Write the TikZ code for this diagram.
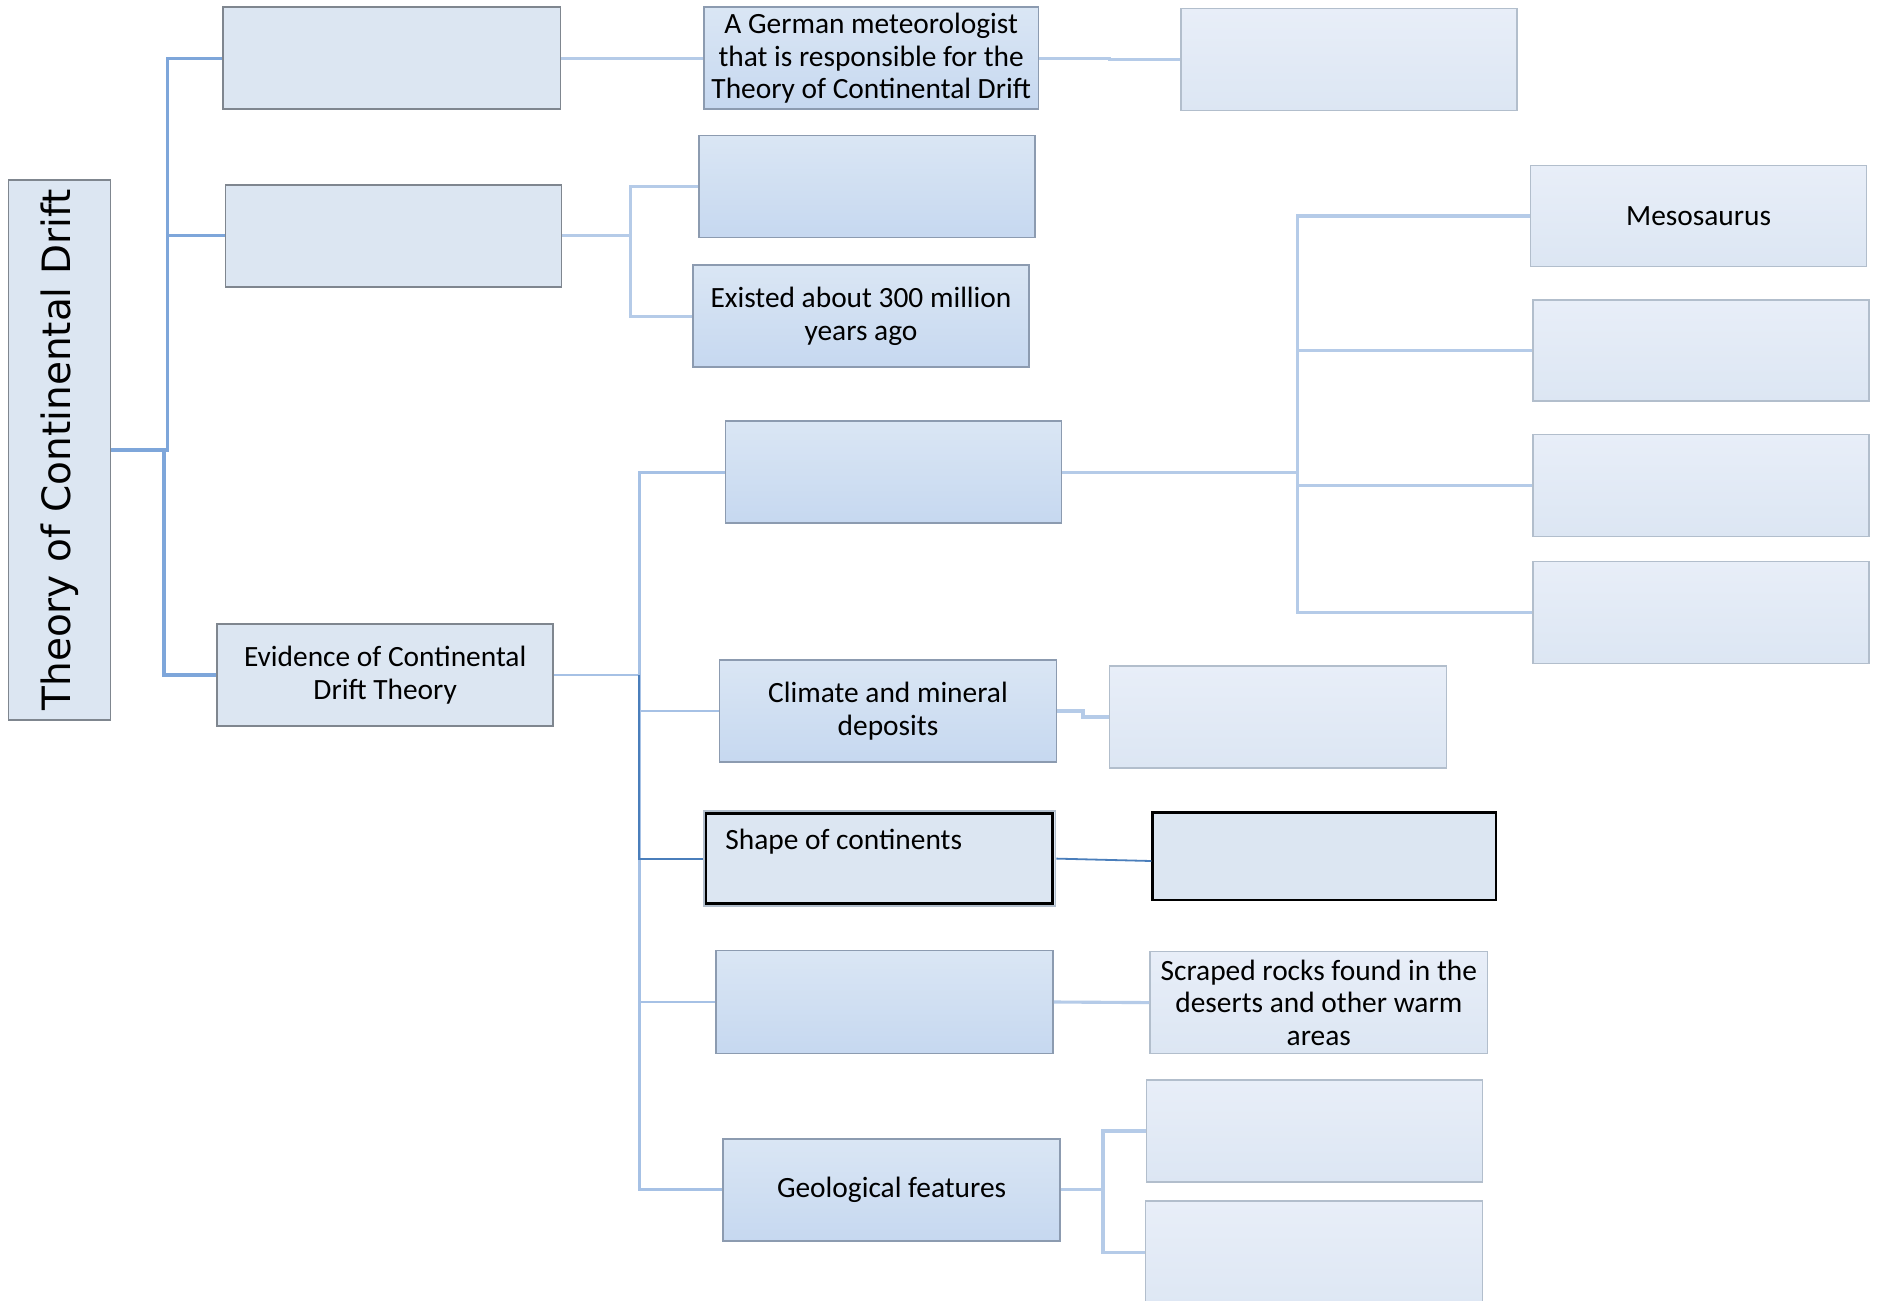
\documentclass[tikz,border=0pt]{standalone}
\usepackage{fontspec}
\setmainfont{Carlito}
\newfontfamily\titlefont{DejaVu Sans}
\usetikzlibrary{calc}
\definecolor{fillA}{HTML}{DCE6F2}
\definecolor{gradTop}{HTML}{DAE6F4}
\definecolor{gradBot}{HTML}{C6D8F0}
\definecolor{liteTop}{HTML}{E8EEF8}
\definecolor{liteBot}{HTML}{DCE6F3}
\definecolor{borderA}{HTML}{7F868F}
\definecolor{borderB}{HTML}{8C9BB0}
\definecolor{borderC}{HTML}{B2BECC}
\definecolor{lineA}{HTML}{7EA6DA}
\definecolor{lineB}{HTML}{B5CBE8}
\definecolor{lineC}{HTML}{A6C1E5}
\definecolor{lineD}{HTML}{4A7EBB}
\tikzset{
  every node/.style={font=\fontsize{24.5}{27}\selectfont, text=black, inner sep=0pt, align=center},
  plainbox/.style={fill=fillA, draw=borderA, line width=1.3pt},
  gradbox/.style={top color=gradTop, bottom color=gradBot, draw=borderB, line width=1.3pt},
  litebox/.style={top color=liteTop, bottom color=liteBot, draw=borderC, line width=1.3pt},
  blackbox/.style={fill=fillA, draw=black, line width=2.2pt},
  connA/.style={draw=lineA, line width=2.6pt},
  connB/.style={draw=lineB, line width=2.6pt},
  connC/.style={draw=lineC, line width=2.4pt},
  connD/.style={draw=lineD, line width=1.5pt},
}
\begin{document}
\begin{tikzpicture}[x=1pt,y=-1pt]
\useasboundingbox (0,0) rectangle (1565,1084);
\fill[white] (0,0) rectangle (1565,1084);

\node[plainbox, minimum width=85, minimum height=450] (title) at (49.5,375) {\rotatebox{90}{\titlefont\fontsize{32.5}{36}\selectfont Theory of Continental Drift}};
\node[plainbox, minimum width=281, minimum height=85] (b1) at (326.5,48.5) {};
\node[plainbox, minimum width=280, minimum height=85] (b2) at (328,196.5) {};
\node[plainbox, minimum width=280, minimum height=85] (ev) at (321,562.5) {Evidence of Continental\\Drift Theory};

\node[gradbox, minimum width=279, minimum height=85] (ger) at (726,48.5) {A German meteorologist\\that is responsible for the\\Theory of Continental Drift};
\node[litebox, minimum width=280, minimum height=85] (tr) at (1124,49.5) {};
\node[gradbox, minimum width=280, minimum height=85] (c1) at (722.5,155.5) {};
\node[gradbox, minimum width=280, minimum height=85] (ex) at (717.5,263.5) {Existed about 300 million\\years ago};
\node[gradbox, minimum width=280, minimum height=85] (fos) at (744.5,393.5) {};

\node[litebox, minimum width=280, minimum height=84] (meso) at (1415.5,180) {Mesosaurus};
\node[litebox, minimum width=280, minimum height=84] (r2) at (1417.5,292) {};
\node[litebox, minimum width=280, minimum height=85] (r3) at (1417.5,404.5) {};
\node[litebox, minimum width=280, minimum height=85] (r4) at (1417.5,510.5) {};

\node[gradbox, minimum width=281, minimum height=85] (cli) at (740,592.5) {Climate and mineral\\deposits};
\node[litebox, minimum width=281, minimum height=85] (clic) at (1065,597.5) {};

\node[fill=fillA, draw=borderC, line width=1.5pt, minimum width=293, minimum height=79] (shape) at (733,715.5) {\parbox[c][79pt][t]{293pt}{\vspace*{15pt}\hspace*{18pt}Shape of continents}};
\draw[black, line width=2.2pt] ([xshift=2.5pt,yshift=-2.5pt]shape.north west) rectangle ([xshift=-3pt,yshift=3pt]shape.south east);
\node[blackbox, minimum width=286, minimum height=73] (shc) at (1103.5,713.5) {};

\node[gradbox, minimum width=281, minimum height=86] (gla) at (737,835) {};
\node[litebox, minimum width=281, minimum height=85] (scr) at (1099,835.5) {Scraped rocks found in the\\deserts and other warm\\areas};

\node[gradbox, minimum width=281, minimum height=85] (geo) at (743,991.5) {Geological features};
\node[litebox, minimum width=280, minimum height=85] (g1) at (1095.5,942.5) {};
\node[litebox, minimum width=281, minimum height=100] (g2) at (1095,1051) {};

% root connectors
\coordinate (j0) at ($(title.east)+(47,0)$);
\coordinate (j1) at ($(title.east)+(44,0)$);
\draw[connA] (title.east) -- (j0) |- (b1.west);
\draw[connA] (j0) |- (b2.west);
\draw[connA] (j1) |- (ev.west);

% first row
\draw[connB] (b1.east) -- (ger.west);
\draw[connB] (ger.east) -| ($(ger.east)!0.5!(tr.west)$) |- (tr.west);

% second branch
\coordinate (j2) at ($(b2.east)+(57,0)$);
\draw[connB] (b2.east) -- (j2) |- (c1.west);
\draw[connB] (j2) |- (ex.west);

% evidence branch
\coordinate (j3) at ($(ev.east)+(71,0)$);
\draw[connC] (ev.east) -- (j3);
\draw[connC] (j3) |- (fos.west);
\draw[connC] (j3) |- (cli.west);
\draw[connC] (j3) |- (gla.west);
\draw[connC] (j3) |- (geo.west);
\draw[connD] (j3) |- (shape.west);

% fossil branch
\coordinate (j4) at ($(fos.east)+(196,0)$);
\draw[connB] (fos.east) -- (j4) |- (meso.west);
\draw[connB] (j4) |- (r2.west);
\draw[connB] (j4) |- (r3.west);
\draw[connB] (j4) |- (r4.west);

% other children
\draw[connB] (cli.east) -| ($(cli.east)!0.5!(clic.west)$) |- (clic.west);
\draw[connD] (shape.east) -- ([yshift=-4pt]shc.west);
\draw[connB] (gla.east) -- (scr.west);
\coordinate (j5) at ($(geo.east)+(35,0)$);
\draw[connB] (geo.east) -- (j5) |- (g1.west);
\draw[connB] (j5) |- ([yshift=7pt]g2.west);
\end{tikzpicture}
\end{document}
